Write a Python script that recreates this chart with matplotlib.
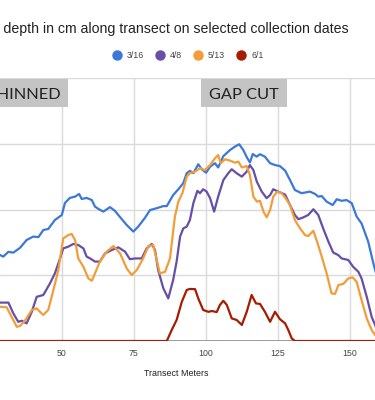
import matplotlib
matplotlib.use("Agg")
import matplotlib.pyplot as plt
from matplotlib.lines import Line2D
from matplotlib.patches import Rectangle

# ---------------- data ----------------
x_3_16 = [28.0, 28.7, 29.8, 31.6, 33.3, 35.6, 37.9, 40.2, 42.0, 43.7, 45.4, 47.7, 50.1, 51.2, 52.9, 54.7, 56.1, 57.0,
          58.7, 60.5, 61.6, 62.8, 64.5, 66.8, 68.5, 70.3, 72.6, 74.9, 76.6, 78.9, 80.7, 83.0, 85.3, 86.5, 88.7,
          90.5, 92.2, 93.4, 94.5, 95.7, 97.4, 98.6, 100.1, 101.5, 103.2, 104.3, 106.1, 108.4, 110.1, 111.6,
          113.0, 114.4, 115.3, 116.3, 117.6, 118.8, 120.5, 122.3, 124.0, 125.7, 127.5, 129.2, 130.9, 133.2,
          136.1, 137.9, 139.0, 140.2, 141.9, 144.0, 145.4, 147.1, 148.8, 150.6, 152.3, 154.0, 156.3, 158.1,
          158.7, 160.0]
y_3_16 = [32.5, 32.7, 32.1, 33.9, 33.6, 35.4, 38.4, 39.7, 39.5, 42.2, 42.6, 46.0, 47.9, 52.5, 54.4, 54.9, 55.9, 54.0,
          54.4, 53.6, 51.1, 50.2, 49.2, 50.9, 49.5, 47.1, 44.1, 41.6, 43.5, 46.8, 49.8, 50.5, 51.3, 51.3, 55.5,
          57.7, 60.0, 63.8, 64.7, 63.8, 67.2, 65.3, 64.0, 66.3, 67.6, 66.0, 70.3, 72.6, 73.9, 74.8,
          72.6, 69.5, 67.9, 71.1, 70.1, 71.0, 70.1, 67.6, 66.9, 66.5, 64.8, 61.2, 57.4, 56.2,
          56.8, 55.9, 54.9, 55.1, 53.0, 51.7, 53.9, 53.3, 53.6, 52.4, 47.3, 44.7, 37.8, 29.5,
          27.0, 22.0]

x_4_8 = [28.0, 28.7, 31.6, 33.3, 35.0, 36.2, 37.9, 39.7, 41.4, 43.7, 46.0, 47.7, 49.5, 50.6, 52.4, 54.1, 55.8, 57.6,
         58.7, 59.9, 61.6, 63.3, 65.1, 67.4, 69.7, 72.0, 73.7, 75.5, 77.8, 79.5, 81.3, 82.4, 83.5, 85.3, 87.0,
         88.7, 89.9, 91.1, 92.2, 93.4, 94.5, 95.7, 97.1, 98.0, 99.1, 100.3, 101.5, 102.9, 104.3, 106.1, 107.8,
         109.0, 110.7, 112.5, 114.2, 115.3, 116.5, 117.7, 119.4, 121.1, 122.3, 123.4, 125.1, 127.5, 129.2,
         130.9, 132.1, 133.8, 135.5, 137.3, 139.0, 140.7, 142.5, 144.2, 145.9, 147.1, 149.4, 151.1, 152.9,
         154.0, 155.8, 157.5, 158.7, 160.0]
y_4_8 = [14.6, 14.6, 14.6, 10.5, 7.3, 7.7, 6.7, 11.1, 16.8, 17.5, 21.9, 25.7, 31.4, 35.2, 35.9, 36.9, 36.5, 35.2,
         32.1, 31.4, 30.2, 30.2, 33.3, 34.6, 35.6, 34.0, 31.1, 31.4, 31.4, 35.2, 36.9, 34.6, 27.0, 20.0, 16.2,
         23.2, 30.2, 39.7, 42.8, 43.5, 46.0, 52.4, 57.1, 56.2, 57.7, 56.8, 54.3, 49.2, 54.9, 61.2, 63.8,
         65.3, 63.8, 62.5, 64.4, 66.9, 65.0, 60.6, 56.8, 54.3, 55.5, 57.7, 56.8, 55.7, 51.7,
         47.9, 46.3, 47.0, 47.9, 50.1, 47.9, 42.8, 37.8, 33.6, 32.7, 31.4, 30.8, 28.2, 26.3,
         23.8, 16.8, 9.2, 6.1, 2.0]

x_5_13 = [28.0, 28.7, 31.0, 32.7, 34.5, 35.6, 37.3, 39.7, 41.4, 42.5, 43.7, 45.4, 47.2, 48.9, 50.6, 52.4, 53.5, 54.7,
          55.8, 57.6, 59.3, 60.5, 61.6, 63.3, 65.7, 68.0, 70.3, 72.6, 74.3, 76.1, 78.3, 80.1, 81.8, 83.0, 84.1,
          85.9, 87.6, 89.3, 90.5, 91.9, 93.4, 94.5, 96.3, 98.0, 99.7, 101.5, 103.2, 104.3, 105.2, 106.7, 108.4,
          110.1, 111.3, 112.5, 114.2, 115.3, 116.5, 117.7, 118.8, 120.0, 121.1, 122.3, 123.4, 124.8, 126.3,
          127.5, 129.2, 130.9, 132.7, 134.4, 135.5, 137.3, 138.4, 140.2, 141.9, 143.6, 144.8, 146.0, 147.7,
          149.4, 150.9, 152.3, 154.0, 155.8, 157.5, 158.7, 160.0]
y_5_13 = [13.0, 13.0, 12.8, 9.2, 5.4, 5.7, 7.7, 11.8, 12.4, 11.1, 9.9, 11.8, 19.4, 27.0, 39.0, 40.3, 40.7, 38.4,
          31.4, 28.2, 23.8, 22.9, 25.7, 30.2, 34.0, 36.1, 33.3, 27.6, 25.1, 27.0, 31.4, 36.1, 36.5, 30.8, 25.7,
          26.3, 31.4, 47.3, 53.0, 56.2, 62.5, 63.8, 64.4, 65.7, 65.0, 66.9, 69.5, 70.7, 67.6, 69.1, 68.6,
          67.8, 68.2, 66.0, 66.5, 63.1, 54.9, 53.0, 53.3, 49.2, 47.0, 49.8, 54.9, 56.8, 56.2,
          54.6, 51.7, 46.0, 42.8, 40.3, 39.9, 41.9, 38.4, 32.1, 25.7, 18.1, 17.9, 21.3, 21.7,
          23.8, 24.2, 22.5, 15.6, 8.6, 4.2, 2.3, 0.5]

x_6_1 = [28.0, 86.5, 88.2, 89.9, 91.7, 93.4, 94.5, 96.3, 97.4, 99.1, 100.9, 102.1, 103.8, 104.9, 106.1, 107.3,
         109.0, 110.7, 112.5, 114.2, 115.9, 117.4, 118.8, 120.5, 122.3, 124.0, 125.7, 127.5, 128.6, 129.8,
         130.9, 160.0]
y_6_1 = [0.0, 0.0, 4.2, 8.0, 14.9, 19.4, 19.8, 19.7, 16.2, 11.8, 11.1, 11.4, 11.0, 13.7, 15.3, 13.7,
         8.6, 8.0, 6.1, 11.1, 17.5, 14.3, 14.1, 11.1, 7.3, 11.1, 8.3, 6.7, 4.2, 1.0,
         0.0, 0.0]

labels = ["3/16", "4/8", "5/13", "6/1"]
colors = ["#3c78d8", "#674ea7", "#f29d3a", "#a61c00"]
x_ticks = [50, 75, 100, 125, 150]
y_grid = [25, 50, 75, 100]

title = "Snow depth in cm along transect on selected collection dates"
x_label = "Transect Meters"

# ---------------- figure ----------------
W, H = 375, 400
fig = plt.figure(figsize=(W / 100, H / 100), dpi=100)
ax = fig.add_axes([0.0, 1 - 341 / H, 1.0, (341 - 78) / H])
ax.set_xlim(28.68, 158.66)
ax.set_ylim(0, 100)

for v in x_ticks:
    ax.axvline(v, color="#dadada", lw=1.0, zorder=0)
for v in y_grid:
    ax.axhline(v, color="#dadada", lw=1.0, zorder=0)
ax.axhline(0, color="#8a8a8a", lw=1.2, zorder=1)

series = [(x_3_16, y_3_16), (x_4_8, y_4_8), (x_5_13, y_5_13), (x_6_1, y_6_1)]
for (xs, ys), c in zip(series, colors):
    ax.plot(xs, ys, color=c, lw=1.6, solid_joinstyle="round", zorder=3)

for s in ax.spines.values():
    s.set_visible(False)
ax.set_yticks([])
ax.set_xticks(x_ticks)
ax.set_xticklabels([str(v) for v in x_ticks], fontsize=6.3, color="#444444",
                   family="Liberation Sans")
ax.tick_params(axis="x", length=0, pad=5.5)
ax.set_xlabel(x_label, fontsize=6.4, color="#222222", family="Liberation Sans", va="center")
ax.xaxis.set_label_coords(176.7 / W, -(373.3 - 341) / 263)

# title
fig.text(349 / W, 1 - 28.5 / H, title, ha="right", va="center", fontsize=10.2,
         color="#222222", family="Liberation Sans")

# legend
handles = [Line2D([], [], marker="o", ls="none", color=c, markersize=6.5) for c in colors]
fig.legend(handles, labels, loc="center", bbox_to_anchor=(188 / W, 1 - 55.7 / H), ncol=4,
           frameon=False, handlelength=1.0, handletextpad=0.64, columnspacing=1.33,
           prop={"family": "Liberation Sans", "size": 6.3}, labelcolor="#444444")

# annotation boxes
fig.patches.append(Rectangle((-10 / W, 1 - 107 / H), 78 / W, 28 / H, transform=fig.transFigure,
                             facecolor="#c4c4c4", edgecolor="none", zorder=5))
fig.text(61 / W, 1 - 95 / H, "THINNED", ha="right", va="center", fontsize=11.8,
         color="#222222", family="Lato", zorder=6)
fig.patches.append(Rectangle((200.7 / W, 1 - 107 / H), 86 / W, 28 / H, transform=fig.transFigure,
                             facecolor="#c4c4c4", edgecolor="none", zorder=5))
fig.text(243.7 / W, 1 - 95 / H, "GAP CUT", ha="center", va="center", fontsize=11.8,
         color="#222222", family="Lato", zorder=6)

fig.savefig("out.png", dpi=100)
